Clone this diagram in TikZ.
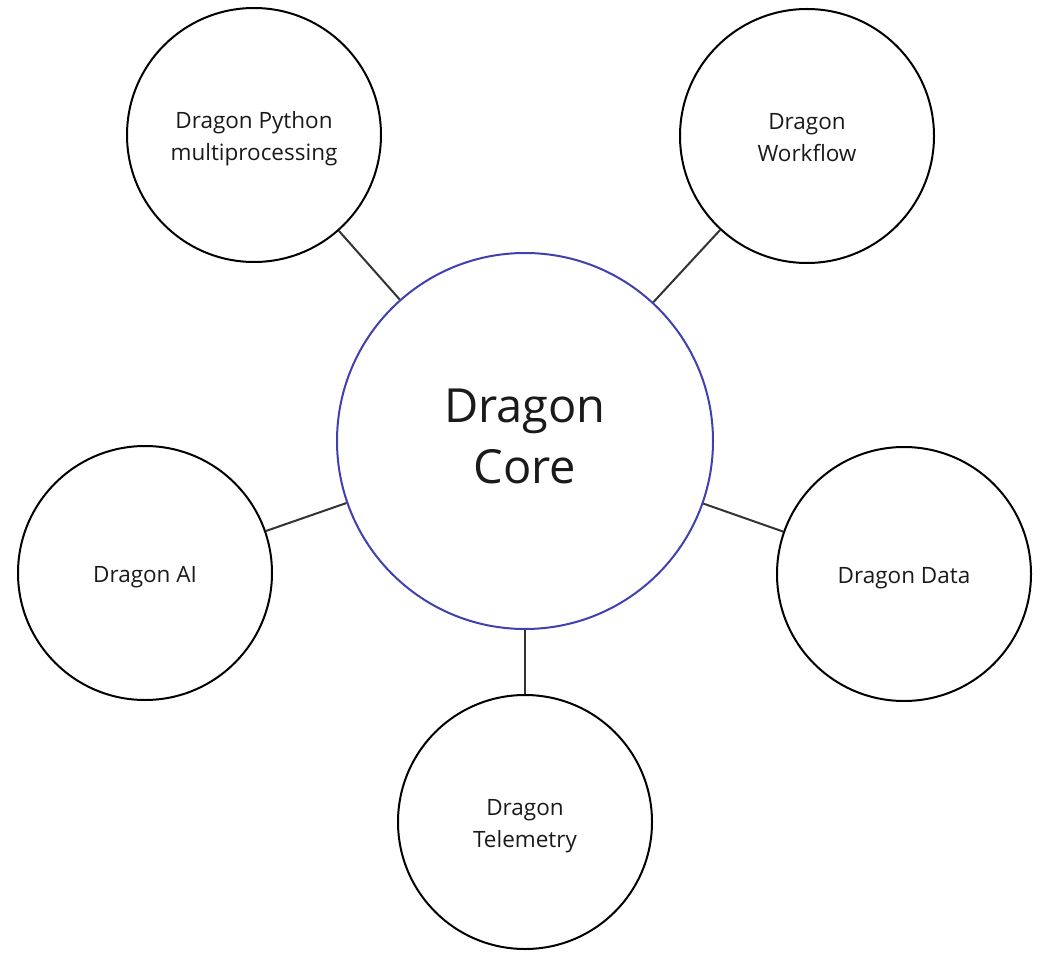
\documentclass[tikz,border=0pt]{standalone}
\usepackage{fontspec}
\setmainfont{Open Sans}
\definecolor{ring}{RGB}{64,64,176}
\definecolor{edge}{RGB}{51,51,51}
\definecolor{txt}{RGB}{26,26,26}
\begin{document}
\begin{tikzpicture} [
    x=1pt, y=-1pt,
    c/.style={draw=edge,line width=2pt},
    part/.style={
        circle, draw=black, line width=2pt,
        minimum size=254pt, inner sep=0pt,
        align=center, text=txt,
        text height=19pt, text depth=0pt,
        font=\fontsize{22.5}{32}\selectfont
    },
    two/.style={text height=51pt},
    hub/.style={
        circle, draw=ring, line width=2pt,
        minimum size=376pt, inner sep=0pt,
        align=center, text=txt,
        text depth=9pt,
        font=\fontsize{47}{61}\selectfont
    }
]
\useasboundingbox (0,0) rectangle (1044,957);

\node [hub] (core) at (525,441) {Dragon\\Core};

\node [part,two] (py)   at (254,135) {Dragon Python\\multiprocessing};
\node [part,two] (wf)   at (807,136) {Dragon\\Workflow};
\node [part]     (ai)   at (145,573) {Dragon AI};
\node [part]     (data) at (904,574) {Dragon Data};
\node [part,two] (tel)  at (525,822) {Dragon\\Telemetry};

\draw [c] (py) -- (core);
\draw [c] (wf) -- (core);
\draw [c] (ai) -- (core);
\draw [c] (data) -- (core);
\draw [c] (tel) -- (core);

\end{tikzpicture}
\end{document}
